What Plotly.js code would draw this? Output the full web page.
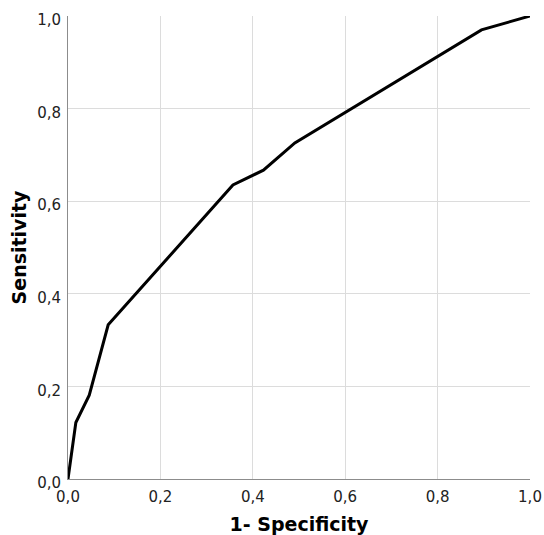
<!DOCTYPE html>
<html>
<head>
<meta charset="utf-8">
<script src="https://cdn.plot.ly/plotly-3.0.1.min.js"></script>
<style>html,body{margin:0;padding:0;background:#fff}#chart{width:544px;height:535px}</style>
</head>
<body>
<div id="chart"></div>
<script>
const fpr = [0, 0.017, 0.046, 0.087, 0.357, 0.423, 0.491, 0.895, 1.0];
const tpr = [0, 0.122, 0.181, 0.333, 0.635, 0.667, 0.726, 0.970, 1.0];
const tickVals = [0, 0.2, 0.4, 0.6, 0.8, 1.0];

const trace = {
  x: fpr, y: tpr, type: 'scatter', mode: 'lines',
  line: {color: '#000', width: 3}, hoverinfo: 'skip'
};
const FONT = 'DejaVu Sans, Verdana, sans-serif';
const axisCommon = {
  range: [0, 1], tickvals: tickVals, tickformat: '.1f',
  showgrid: true, gridcolor: '#dcdcdc', gridwidth: 1,
  zeroline: false, showline: true, linecolor: '#8c8c8c', linewidth: 1,
  ticks: '', tickfont: {family: FONT, size: 15, color: '#222'},
  fixedrange: true
};
const layout = {
  width: 544, height: 535,
  margin: {l: 68, r: 14, t: 16, b: 56},
  paper_bgcolor: '#fff', plot_bgcolor: '#fff',
  separators: ',.',
  showlegend: false,
  xaxis: Object.assign({}, axisCommon, {
    ticklabelstandoff: 4,
    title: {text: '<b>1- Specificity</b>', font: {family: FONT, size: 19, color: '#000'}, standoff: 14}
  }),
  yaxis: Object.assign({}, axisCommon, {
    ticklabelstandoff: 3,
    ticklabelshift: 4,
    title: {text: '<b>Sensitivity</b>', font: {family: FONT, size: 19, color: '#000'}, standoff: 5}
  })
};
Plotly.newPlot('chart', [trace], layout, {displayModeBar: false, staticPlot: true});
</script>
</body>
</html>
